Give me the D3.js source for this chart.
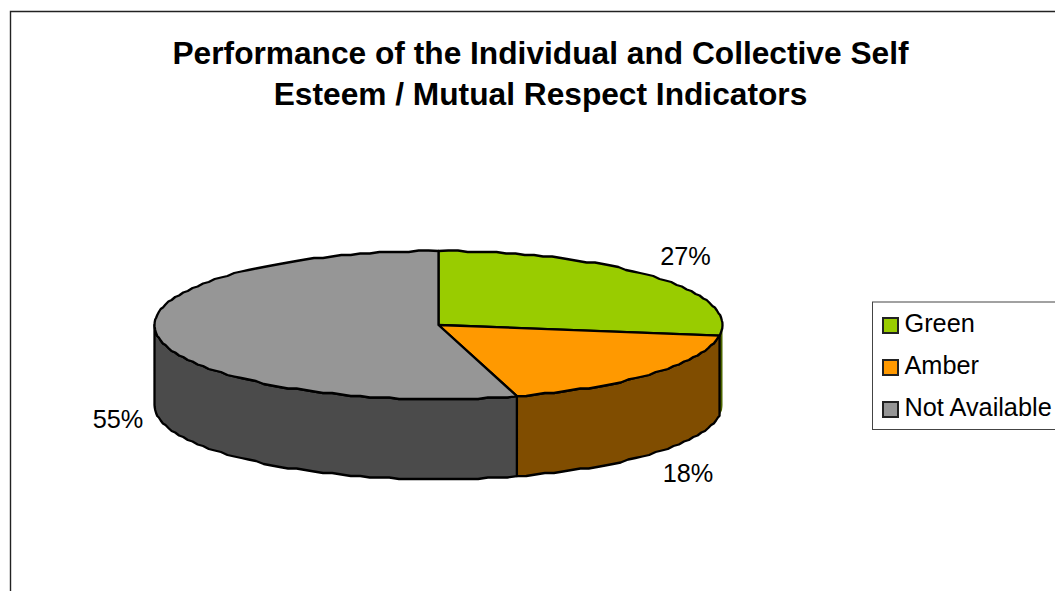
<!DOCTYPE html>
<html><head><meta charset="utf-8">
<script src="https://cdn.jsdelivr.net/npm/d3@7"></script>
<style>html,body{margin:0;padding:0;background:#fff;overflow:hidden}svg{display:block}text{font-family:"Liberation Sans",Arial,sans-serif;fill:#000}</style>
</head><body><svg id="c" width="1055" height="591"></svg>
<script>
const titleLines = ["Performance of the Individual and Collective Self", "Esteem / Mutual Respect Indicators"];
const categories = ["Green", "Amber", "Not Available"];
const values = [27.3, 18.25, 54.45];
const valueLabels = ["27%", "18%", "55%"];
const topColors = ["#99cc00", "#ff9900", "#969696"];
const sideColors = ["#4d6600", "#804d00", "#4b4b4b"];

const W = 1055, H = 591;
const svg = d3.select("#c").attr("viewBox", `0 0 ${W} ${H}`);
const cx = 438.5, cy = 325, rx = 284, ry = 74, depth = 80, grid = 1.5;

svg.append("path").attr("d", `M10.5 ${H}V11.5H${W}`).attr("fill", "none").attr("stroke", "#222").attr("stroke-width", 1.4);

svg.append("g").selectAll("text").data(titleLines).join("text")
  .attr("x", 540.5).attr("y", (d, i) => 63.5 + i * 41)
  .attr("text-anchor", "middle").attr("font-size", 31.7).attr("font-weight", 700).text(d => d);

const arcs = d3.pie().sort(null).value(d => d)(values);
const snap = v => Math.round(v / grid) * grid;
// The outline of the reference is slightly stepped, so rim points are snapped to a small grid
const px = a => cx + rx * Math.sin(a);
const py = a => cy - ry * Math.cos(a);
const samples = (a0, a1) => {
  const n = Math.max(2, Math.ceil((a1 - a0) / 0.035));
  return d3.range(n + 1).map(i => a0 + (a1 - a0) * i / n);
};
const rim = (a, a0, a1) => (a === a0 || a === a1) ? [px(a), py(a)] : [px(a), snap(py(a))];
const line = d3.line();
const pie = svg.append("g").attr("stroke", "#000").attr("stroke-width", 2.3).attr("stroke-linejoin", "round");

const lo = Math.PI / 2, hi = 3 * Math.PI / 2;
arcs.forEach((d, i) => {
  const a0 = Math.max(d.startAngle, lo), a1 = Math.min(d.endAngle, hi);
  if (a1 <= a0) return;
  const s = samples(a0, a1);
  const pts = s.map(a => rim(a, a0, a1)).concat(s.slice().reverse().map(a => { const p = rim(a, a0, a1); return [p[0], p[1] + depth]; }));
  pie.append("path").attr("d", line(pts) + "Z").attr("fill", sideColors[i]).attr("stroke", i === 0 ? "none" : "#000");
});
arcs.forEach((d, i) => {
  const pts = [[cx, cy]].concat(samples(d.startAngle, d.endAngle).map(a => rim(a, d.startAngle, d.endAngle)));
  pie.append("path").attr("d", line(pts) + "Z").attr("fill", topColors[i]);
});

const labelPos = [[685.5, 265], [688, 482], [118, 428]];
svg.append("g").selectAll("text").data(valueLabels).join("text")
  .attr("x", (d, i) => labelPos[i][0]).attr("y", (d, i) => labelPos[i][1])
  .attr("text-anchor", "middle").attr("font-size", 25.3).text(d => d);

const legendY = d3.scalePoint().domain(categories).range([325.5, 409.5]);
const legend = svg.append("g");
legend.append("rect").attr("x", 872.5).attr("y", 302).attr("width", 200).attr("height", 127.5)
  .attr("fill", "#fff").attr("stroke", "#444").attr("stroke-width", 1);
categories.forEach((c, i) => {
  legend.append("rect").attr("x", 883).attr("y", legendY(c) - 7.5).attr("width", 15).attr("height", 15)
    .attr("fill", topColors[i]).attr("stroke", "#222").attr("stroke-width", 2);
  legend.append("text").attr("x", 904.5).attr("y", legendY(c) + 6).attr("font-size", 25.3).text(c);
});
</script></body></html>
